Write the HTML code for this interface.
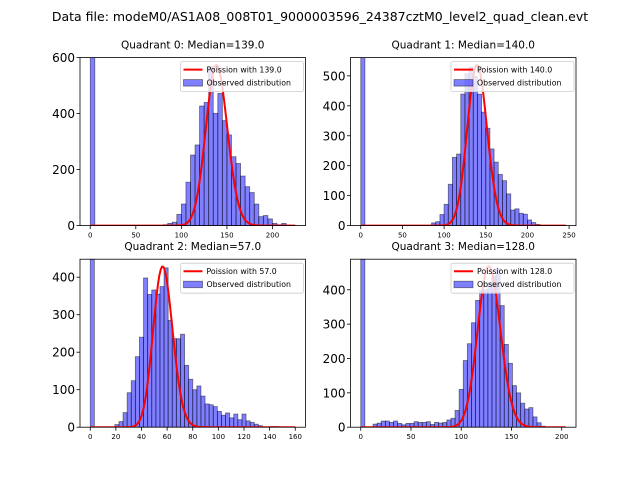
<!DOCTYPE html>
<html><head><meta charset="utf-8"><style>
body{margin:0;background:#fff;}
svg{display:block;font-family:"DejaVu Sans","Liberation Sans",sans-serif;}
</style></head><body>
<svg id="fig" width="640" height="480" viewBox="0 0 640 480" xmlns="http://www.w3.org/2000/svg">
<rect width="640" height="480" fill="#fff"/>
<text x="320" y="21" text-anchor="middle" font-size="12.5" fill="#000">Data file: modeM0/AS1A08_008T01_9000003596_24387cztM0_level2_quad_clean.evt</text>
</svg>
<script>
// Quadrant 0 data (bin width 5)
const q0Counts = [9999,0,0,0,0,0,0,0,0,0,0,0,0,0,0,0,3,8,12,40,77,155,252,288,427,440,568,401,472,375,324,246,222,177,139,118,77,32,36,24,8,3,8,2];
const q0Lambda = 139.0; const q0Peak = 573; const q0Max = 225;
const q0YTicks = [0,200,400,600]; const q0XTicks = [0,50,100,150,200];
// Quadrant 1 data (bin width 5)
const q1Counts = [9999,0,0,0,0,0,0,0,0,0,0,0,0,0,0,0,0,9,13,37,71,138,228,239,439,507,529,498,439,379,325,256,212,171,150,106,52,56,41,38,19,10,4,0,0,0,0,0,1];
const q1Lambda = 140.0; const q1Peak = 536; const q1Max = 246;
const q1YTicks = [0,100,200,300,400,500]; const q1XTicks = [0,50,100,150,200,250];
// Quadrant 2 data (bin width 3.2)
const q2Counts = [9999,0,0,0,0,0,7,15,39,92,124,188,240,398,354,366,355,375,425,285,236,236,248,165,128,100,110,83,62,60,55,42,32,38,25,35,20,35,17,13,8,4,0,0,2,2,1,0,0,0];
const q2Lambda = 57.0; const q2Peak = 428; const q2Max = 160;
const q2YTicks = [0,100,200,300,400]; const q2XTicks = [0,20,40,60,80,100,120,140,160];
// Quadrant 3 data (bin width 4.08)
const q3Counts = [9999,0,0,9,12,18,18,14,18,11,7,11,11,16,14,14,16,8,14,12,14,21,26,49,110,194,243,304,369,398,400,420,440,461,354,241,186,121,100,70,53,57,30,13,3,0,0,0,0,0];
const q3Lambda = 128.0; const q3Peak = 468; const q3Max = 204;
const q3YTicks = [0,100,200,300,400]; const q3XTicks = [0,50,100,150,200];

const NS='http://www.w3.org/2000/svg';
const fig=document.getElementById('fig');
function mk(tag,attrs,parent){const e=document.createElementNS(NS,tag);for(const k in attrs)e.setAttribute(k,attrs[k]);(parent||fig).appendChild(e);return e;}

const panels=[
 {i:0,counts:q0Counts,bw:5,lam:q0Lambda,peak:q0Peak,max:q0Max,yt:q0YTicks,xt:q0XTicks,ymax:600,box:[80,57.6,225.5,168]},
 {i:1,counts:q1Counts,bw:5,lam:q1Lambda,peak:q1Peak,max:q1Max,yt:q1YTicks,xt:q1XTicks,ymax:561,box:[350.5,57.6,225.5,168]},
 {i:2,counts:q2Counts,bw:3.2,lam:q2Lambda,peak:q2Peak,max:q2Max,yt:q2YTicks,xt:q2XTicks,ymax:448,box:[80,259.2,225.5,168]},
 {i:3,counts:q3Counts,bw:4.08,lam:q3Lambda,peak:q3Peak,max:q3Max,yt:q3YTicks,xt:q3XTicks,ymax:489,box:[350.5,259.2,225.5,168]}
];
function logPmf(k,l){let s=0;for(let j=2;j<=k;j++)s+=Math.log(j);return k*Math.log(l)-l-s;}

panels.forEach(p=>{
 const [L,T,W,H]=p.box;
 const xmin=-0.05*p.max, xmax=1.05*p.max;
 const xs=v=>L+(v-xmin)/(xmax-xmin)*W;
 const ys=v=>T+H-v/p.ymax*H;
 const g=mk('g',{});
 
 
 const cp=mk('clipPath',{id:'cp'+p.i},g);
 mk('rect',{x:L,y:T,width:W,height:H},cp);
 const bars=mk('g',{'clip-path':'url(#cp'+p.i+')'},g);
 p.counts.forEach((c,k)=>{
  if(c<=0)return;
  const x0=xs(k*p.bw),x1=xs((k+1)*p.bw);
  const r=mk('rect',{x:x0,y:ys(c),width:x1-x0,height:ys(0)-ys(c),fill:'rgba(0,0,255,0.5)',stroke:'rgba(0,0,0,0.5)','stroke-width':0.8},bars);
  
  
 });
 let d='';const lp=logPmf(Math.round(p.lam),p.lam);
 for(let k=0;k<=p.max;k++){const v=p.peak*Math.exp(logPmf(k,p.lam)-lp);d+=(k?'L':'M')+xs(k).toFixed(2)+','+ys(v).toFixed(2);}
 const ln=mk('path',{d:d,fill:'none',stroke:'#ff0000','stroke-width':2},bars);
 
 
 mk('rect',{x:L,y:T,width:W,height:H,fill:'none',stroke:'#000','stroke-width':0.8},g);
 p.yt.forEach(t=>{const y=ys(t);mk('line',{x1:L-3.5,x2:L,y1:y,y2:y,stroke:'#000','stroke-width':0.8},g);
  const tx=mk('text',{x:L-5,y:y+4.5,'text-anchor':'end','font-size':12},g);tx.textContent=t;
  
  });
 p.xt.forEach(t=>{const x=xs(t);mk('line',{x1:x,x2:x,y1:T+H,y2:T+H+3.5,stroke:'#000','stroke-width':0.8},g);
  const tx=mk('text',{x:x,y:T+H+12,'text-anchor':'middle','font-size':7},g);tx.textContent=t;
  
  });
 const ti=mk('text',{x:L+W/2,y:T-9,'text-anchor':'middle','font-size':10.5},g);
 ti.textContent='Quadrant '+p.i+': Median='+p.lam.toFixed(1);
 
 
 const lg=mk('g',{},g);
 
 
 const lx=L+W-125;
 mk('rect',{x:lx,y:T+4,width:123,height:30,rx:2,fill:'rgba(255,255,255,0.8)',stroke:'#ccc','stroke-width':0.8},lg);
 mk('line',{x1:lx+3,x2:lx+22,y1:T+12,y2:T+12,stroke:'#f00','stroke-width':2},lg);
 const t1=mk('text',{x:lx+26,y:T+15,'font-size':7.8},lg);t1.textContent='Poission with '+p.lam.toFixed(1);
 mk('rect',{x:lx+3,y:T+22,width:19,height:6.5,fill:'rgba(0,0,255,0.5)',stroke:'rgba(0,0,0,0.5)','stroke-width':0.8},lg);
 const t2=mk('text',{x:lx+26,y:T+28,'font-size':7.8},lg);t2.textContent='Observed distribution';
});
</script>
</body></html>
